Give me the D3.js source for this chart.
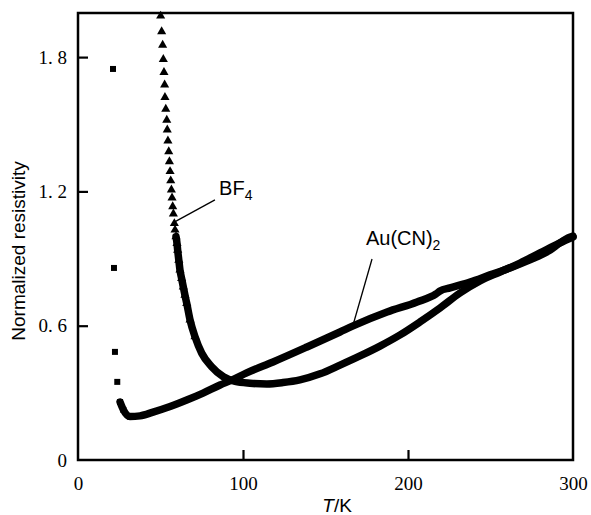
<!DOCTYPE html>
<html>
<head>
<meta charset="utf-8">
<script src="https://cdn.jsdelivr.net/npm/d3@7/dist/d3.min.js"></script>
<style>
  body { margin: 0; background: #fff; }
  svg { display: block; }
</style>
</head>
<body>
<div id="chart"></div>
<script>
// Normalized resistivity vs temperature for the BF4 and Au(CN)2 salts

// Au(CN)2 : isolated square points at low T
const auSparseT = [21.2, 21.8, 22.4, 23.8];
const auSparseV = [1.747, 0.858, 0.483, 0.349];
// Au(CN)2 : dense part (points merge into a thick line)
const auDenseT = [25.5, 27.5, 31.5, 37.6, 45.5, 55.8, 65.9, 75.8, 86.1, 93.2, 102.2, 118.2,
                  138.8, 158.8, 166.7, 187.3, 205.5, 217.0, 219.4, 225.5, 237.6, 249.7,
                  261.8, 273.9, 286.1, 292.1, 298.0, 300.0];
const auDenseV = [0.259, 0.224, 0.194, 0.197, 0.214, 0.239, 0.268, 0.299, 0.335, 0.357, 0.389, 0.438,
                  0.505, 0.572, 0.599, 0.661, 0.706, 0.742, 0.755, 0.769, 0.795, 0.827,
                  0.858, 0.894, 0.938, 0.970, 0.995, 1.000];

// BF4 : isolated triangle points
const bfSparseT = [50.1, 50.7, 51.3, 51.7, 52.1, 52.5, 52.7, 53.2, 53.8, 54.1, 54.5, 55.0,
                   55.4, 55.8, 56.2, 56.6, 57.0, 57.4, 57.8, 58.4, 58.8];
const bfSparseV = [1.984, 1.914, 1.854, 1.790, 1.732, 1.676, 1.620, 1.568, 1.519, 1.475, 1.426, 1.378,
                   1.333, 1.289, 1.248, 1.207, 1.171, 1.132, 1.100, 1.057, 1.028];
// BF4 : dense part
const bfDenseT = [59.4, 60.0, 60.4, 61.1, 61.8, 62.8, 63.8, 64.8, 65.9, 67.9, 70.9, 75.0, 81.0, 88.1,
                  95.2, 104.2, 114.4, 124.2, 134.5, 146.7, 158.8, 170.9, 183.0, 195.2, 207.3,
                  219.4, 231.5, 243.6, 255.8, 267.9, 280.0, 292.1, 300.0];
const bfDenseV = [0.998, 0.968, 0.938, 0.893, 0.849, 0.811, 0.774, 0.737, 0.700, 0.626, 0.551, 0.477,
                  0.417, 0.372, 0.351, 0.343, 0.340, 0.346, 0.358, 0.385, 0.424, 0.465, 0.509,
                  0.559, 0.617, 0.679, 0.746, 0.800, 0.840, 0.880, 0.925, 0.970, 0.996];

const xTicks = [0, 100, 200, 300];
const yTicks = [0, 0.6, 1.2, 1.8];

// labels with leader lines, in data units
const labels = [
  {main: 'BF', sub: '4', tx: 85.5, tv: 1.184, x1: 58.6, v1: 1.064, x2: 83.0, v2: 1.162},
  {main: 'Au(CN)', sub: '2', tx: 174.5, tv: 0.961, x1: 166.7, v1: 0.603, x2: 178.2, v2: 0.898}
];

const zip = (ts, vs) => ts.map((t, i) => ({t: t, v: vs[i]}));

function createChart() {
    const width = 591, height = 515;
    const margin = {top: 13, right: 18, bottom: 55, left: 78};
    const w = width - margin.left - margin.right;
    const h = height - margin.top - margin.bottom;

    const svg = d3.select('#chart').append('svg')
        .attr('width', width)
        .attr('height', height)
        .append('g')
        .attr('transform', `translate(${margin.left},${margin.top})`);

    const x = d3.scaleLinear().domain([0, 300]).range([0, w]);
    const y = d3.scaleLinear().domain([0, 1.997]).range([h, 0]);

    // y axis, ticks pointing inward
    const yAxis = svg.append('g')
        .call(d3.axisLeft(y)
            .tickValues(yTicks)
            .tickSize(-10)
            .tickSizeOuter(0)
            .tickPadding(11)
            .tickFormat(d => d === 0 ? '0' : d3.format('.1f')(d).replace('.', '. ')));
    yAxis.select('.domain').remove();

    const xAxis = svg.append('g')
        .attr('transform', `translate(0,${h})`)
        .call(d3.axisBottom(x)
            .tickValues(xTicks)
            .tickSize(-10)
            .tickSizeOuter(0)
            .tickPadding(17));
    xAxis.select('.domain').remove();

    svg.selectAll('.tick line').attr('stroke', '#000').attr('stroke-width', 2.2);
    svg.selectAll('.tick text')
        .style('font-family', '"Liberation Serif", "DejaVu Serif", serif')
        .style('font-size', '19px')
        .attr('fill', '#000');
    // hide ticks at the corners
    xAxis.selectAll('.tick').filter(d => d === 0 || d === 300).select('line').remove();
    yAxis.selectAll('.tick').filter(d => d === 0).select('line').remove();

    // frame
    svg.append('rect')
        .attr('x', 0).attr('y', 0)
        .attr('width', w).attr('height', h)
        .attr('fill', 'none')
        .attr('stroke', '#000')
        .attr('stroke-width', 2.5);

    const line = d3.line()
        .x(d => x(d.t))
        .y(d => y(d.v))
        .curve(d3.curveMonotoneX);

    const auDense = zip(auDenseT, auDenseV);
    const bfDense = zip(bfDenseT, bfDenseV);

    // thick lines for dense parts
    [auDense, bfDense].forEach(data => {
        svg.append('path')
            .datum(data)
            .attr('fill', 'none')
            .attr('stroke', '#000')
            .attr('stroke-width', 7.5)
            .attr('stroke-linecap', 'round')
            .attr('stroke-linejoin', 'round')
            .attr('d', line);
    });

    // square markers
    const square = d3.symbol().type(d3.symbolSquare).size(36);
    svg.selectAll('.sq')
        .data(zip(auSparseT, auSparseV).concat(auDense.slice(0, 3)))
        .enter()
        .append('path')
        .attr('class', 'sq')
        .attr('transform', d => `translate(${x(d.t)},${y(d.v)})`)
        .attr('d', square)
        .attr('fill', '#000');

    // triangle markers
    const tri = d3.symbol().type(d3.symbolTriangle).size(36);
    svg.selectAll('.tri')
        .data(zip(bfSparseT, bfSparseV).concat(bfDense.slice(0, 11)))
        .enter()
        .append('path')
        .attr('class', 'tri')
        .attr('transform', d => `translate(${x(d.t)},${y(d.v)})`)
        .attr('d', tri)
        .attr('fill', '#000');

    // labels and leader lines
    labels.forEach(l => {
        svg.append('line')
            .attr('x1', x(l.x1)).attr('y1', y(l.v1))
            .attr('x2', x(l.x2)).attr('y2', y(l.v2))
            .attr('stroke', '#000')
            .attr('stroke-width', 1.3);
        const t = svg.append('text')
            .attr('x', x(l.tx))
            .attr('y', y(l.tv))
            .style('font-family', '"Liberation Sans", Arial, sans-serif')
            .style('font-size', '20px')
            .text(l.main);
        t.append('tspan')
            .attr('dy', 5)
            .style('font-size', '14px')
            .text(l.sub);
    });

    // axis titles
    svg.append('text')
        .attr('transform', 'rotate(-90)')
        .attr('x', -(251 - margin.top))
        .attr('y', -53)
        .attr('text-anchor', 'middle')
        .style('font-family', '"Liberation Sans", Arial, sans-serif')
        .style('font-size', '19px')
        .text('Normalized resistivity');

    const xt = svg.append('text')
        .attr('x', x(157))
        .attr('y', h + 52)
        .attr('text-anchor', 'middle')
        .style('font-family', '"Liberation Sans", Arial, sans-serif')
        .style('font-size', '19px');
    xt.append('tspan').style('font-style', 'italic').text('T');
    xt.append('tspan').text('/K');
}

createChart();
</script>
</body>
</html>
